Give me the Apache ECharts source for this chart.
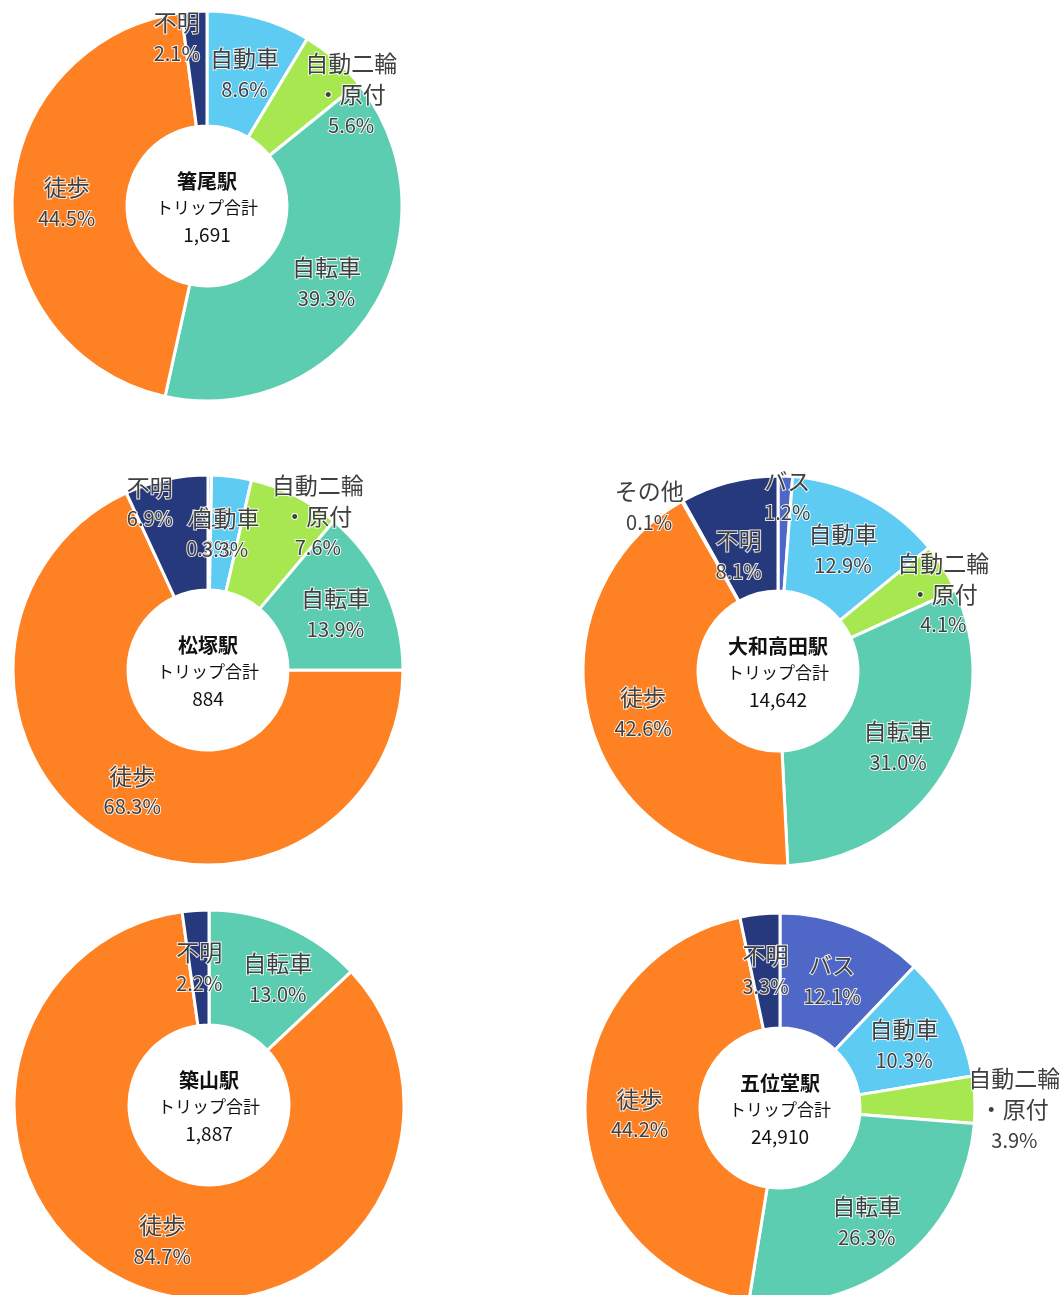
<!DOCTYPE html>
<html>
<head>
<meta charset="utf-8">
<script src="https://cdn.jsdelivr.net/npm/echarts@6/dist/echarts.min.js"></script>
<style>
  html, body { margin: 0; padding: 0; background: #fff; }
  #chart { width: 1062px; height: 1295px; }
</style>
</head>
<body>
<div id="chart"></div>
<script>
// 駅別 端末交通手段構成（トリップ合計）
const stations = ['箸尾駅', '松塚駅', '大和高田駅', '築山駅', '五位堂駅'];
const tripTotals = ['1,691', '884', '14,642', '1,887', '24,910'];

// 箸尾駅
const hashioModes = ['自動車', '自動二輪\n・原付', '自転車', '徒歩', '不明'];
const hashioShares = [8.6, 5.6, 39.3, 44.5, 2.1];
// 松塚駅
const matsuzukaModes = ['バス', '自動車', '自動二輪\n・原付', '自転車', '徒歩', '不明'];
const matsuzukaShares = [0.3, 3.3, 7.6, 13.9, 68.3, 6.9];
// 大和高田駅
const takadaModes = ['バス', '自動車', '自動二輪\n・原付', '自転車', '徒歩', 'その他', '不明'];
const takadaShares = [1.2, 12.9, 4.1, 31.0, 42.6, 0.1, 8.1];
// 築山駅
const tsukiyamaModes = ['自転車', '徒歩', '不明'];
const tsukiyamaShares = [13.0, 84.7, 2.2];
// 五位堂駅
const goidoModes = ['バス', '自動車', '自動二輪\n・原付', '自転車', '徒歩', '不明'];
const goidoShares = [12.1, 10.3, 3.9, 26.3, 44.2, 3.3];

const modeColors = {
    'バス': '#4F68C7',
    '自動車': '#5ECBF2',
    '自動二輪\n・原付': '#A7E851',
    '自転車': '#5DCDB1',
    '徒歩': '#FE8123',
    'その他': '#A5A5A5',
    '不明': '#26397C'
};

// 各円の中心
const centers = [[207, 206], [208, 670], [778, 671], [209, 1105], [780, 1108]];

// ラベルの手動調整（内側位置からのずれ）
const labelNudges = [
    { '自動二輪\n・原付': [52, -9], '不明': [-21, -31] },
    { '自動二輪\n・原付': [47, -31], '不明': [-28, -33] },
    { 'バス': [4, -37], '自動二輪\n・原付': [46, -6], 'その他': [-60, -45], '不明': [-4, 18] },
    { '自転車': [13, 0] },
    { '自動二輪\n・原付': [94, 4] }
];
const baseDy = 3;

const FONT = '"Noto Sans CJK JP", "Noto Sans", sans-serif';
const halo = { textBorderColor: 'rgba(255,255,255,0.85)', textBorderWidth: 2 };

function buildSeries(i, modes, shares) {
    const nudge = labelNudges[i];
    return {
        type: 'pie',
        center: centers[i],
        radius: [80, 195],
        startAngle: 90,
        clockwise: true,
        avoidLabelOverlap: false,
        itemStyle: { borderColor: '#fff', borderWidth: 3 },
        label: {
            show: true,
            position: 'inside',
            fontFamily: FONT,
            color: '#404040',
            formatter: p => `{n|${p.name}}\n{p|${p.value.toFixed(1)}%}`,
            rich: {
                n: Object.assign({ fontSize: 23, lineHeight: 31, color: '#404040', fontFamily: FONT }, halo),
                p: Object.assign({ fontSize: 20, lineHeight: 31, color: '#404040', fontFamily: FONT }, halo)
            }
        },
        labelLine: { show: false },
        labelLayout: function (params) {
            const name = modes[params.dataIndex];
            const off = nudge[name] || [0, 0];
            return { dx: off[0], dy: off[1] + baseDy };
        },
        emphasis: { disabled: true },
        data: modes.map((m, k) => ({
            name: m,
            value: shares[k],
            itemStyle: { color: modeColors[m] }
        }))
    };
}

const chart = echarts.init(document.getElementById('chart'));

const option = {
    animation: false,
    backgroundColor: '#fff',
    series: [
        buildSeries(0, hashioModes, hashioShares),
        buildSeries(1, matsuzukaModes, matsuzukaShares),
        buildSeries(2, takadaModes, takadaShares),
        buildSeries(3, tsukiyamaModes, tsukiyamaShares),
        buildSeries(4, goidoModes, goidoShares)
    ],
    graphic: stations.map((s, i) => ({
        type: 'text',
        x: centers[i][0],
        y: centers[i][1] + 2,
        z: 100,
        style: {
            text: `{s|${s}}\n{t|トリップ合計}\n{v|${tripTotals[i]}}`,
            align: 'center',
            verticalAlign: 'middle',
            rich: {
                s: { fontSize: 20, fontWeight: 'bold', lineHeight: 27, fill: '#111', fontFamily: FONT },
                t: { fontSize: 17, lineHeight: 27, fill: '#111', fontFamily: FONT },
                v: { fontSize: 19, lineHeight: 27, fill: '#111', fontFamily: FONT }
            }
        }
    }))
};

chart.setOption(option);
</script>
</body>
</html>
